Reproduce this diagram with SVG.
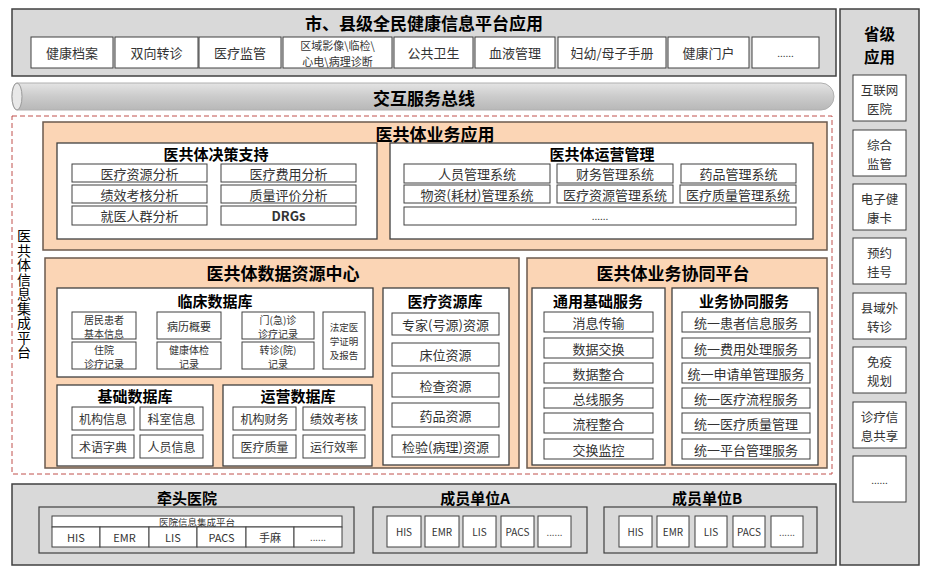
<svg xmlns="http://www.w3.org/2000/svg" width="933" height="573" viewBox="0 0 933 573">
<defs>
<linearGradient id="busg" x1="0" y1="0" x2="0" y2="1">
<stop offset="0" stop-color="#e4e4e4"/>
<stop offset="0.5" stop-color="#cbcbcb"/>
<stop offset="1" stop-color="#b8b8b8"/>
</linearGradient>
<style>
text{font-family:"Noto Sans CJK SC","Noto Sans",sans-serif;text-anchor:middle;dominant-baseline:central}
.panel{fill:#d9d9d9;stroke:#404040;stroke-width:1.5}
.peach{fill:#fbd5b5;stroke:#6b5a4e;stroke-width:1.5}
.wbox{fill:#fff;stroke:#404040;stroke-width:1.3}
.item{fill:#fff;stroke:#404040;stroke-width:1}
.dash{fill:none;stroke:#c0504d;stroke-width:1;stroke-dasharray:5,3}
.h1{font-size:17px;font-weight:bold;fill:#000}
.hp{font-size:15.5px;font-weight:bold;fill:#000}
.h2{font-size:15px;font-weight:bold;fill:#000}
.t13{font-size:13px;fill:#333}
.ts{font-size:12.5px;fill:#333}
.t12{font-size:12px;fill:#333}
.t11{font-size:11px;fill:#333}
.t10{font-size:10px;fill:#333}
.t9{font-size:9.5px;fill:#333}
.vert{font-size:14px;fill:#000;writing-mode:tb;text-anchor:start;letter-spacing:0.5px}
</style>
</defs>
<rect width="933" height="573" fill="#fff"/>

<g id="city-apps">
<rect class="panel" x="12" y="9" width="824" height="67"/>
<text class="h1" x="424" y="22">市、县级全民健康信息平台应用</text>
<rect class="item" x="31" y="37" width="82" height="31"/><text class="t13" x="72" y="52.5">健康档案</text>
<rect class="item" x="115" y="37" width="83" height="31"/><text class="t13" x="156.5" y="52.5">双向转诊</text>
<rect class="item" x="199" y="37" width="82" height="31"/><text class="t13" x="240" y="52.5">医疗监管</text>
<rect class="item" x="283" y="37" width="109" height="31"/><text class="t11"><tspan x="337.5" y="44.5">区域影像\临检\</tspan><tspan x="337.5" y="60.5">心电\病理诊断</tspan></text>
<rect class="item" x="394" y="37" width="79" height="31"/><text class="t13" x="433.5" y="52.5">公共卫生</text>
<rect class="item" x="475" y="37" width="80" height="31"/><text class="t13" x="515" y="52.5">血液管理</text>
<rect class="item" x="558" y="37" width="108" height="31"/><text class="t13" x="612" y="52.5">妇幼/母子手册</text>
<rect class="item" x="668" y="37" width="81" height="31"/><text class="t13" x="708.5" y="52.5">健康门户</text>
<rect class="item" x="752" y="37" width="67" height="31"/><text class="t10" x="785.5" y="52.5">......</text>
</g>

<g id="service-bus">
<path d="M17,83 H821 A13,13.5 0 0 1 821,110 H17 A5,13.5 0 0 1 17,83 Z" fill="url(#busg)" stroke="#b0b0b0" stroke-width="1"/>
<ellipse cx="17" cy="96.5" rx="5" ry="13.5" fill="#e8e8e8" stroke="#9a9a9a" stroke-width="1"/>
<text class="h1" x="424" y="97">交互服务总线</text>
</g>

<g id="province-apps">
<rect class="panel" x="840" y="9" width="79" height="556"/>
<text class="hp"><tspan x="879.5" y="33">省级</tspan><tspan x="879.5" y="56">应用</tspan></text>
<rect class="item" x="853" y="75" width="53" height="46"/><text class="ts"><tspan x="879.5" y="89">互联网</tspan><tspan x="879.5" y="107.5">医院</tspan></text>
<rect class="item" x="853" y="130" width="53" height="46"/><text class="ts"><tspan x="879.5" y="144">综合</tspan><tspan x="879.5" y="162.5">监管</tspan></text>
<rect class="item" x="853" y="184" width="53" height="46"/><text class="ts"><tspan x="879.5" y="198">电子健</tspan><tspan x="879.5" y="216.5">康卡</tspan></text>
<rect class="item" x="853" y="238" width="53" height="46"/><text class="ts"><tspan x="879.5" y="252">预约</tspan><tspan x="879.5" y="270.5">挂号</tspan></text>
<rect class="item" x="853" y="293" width="53" height="46"/><text class="ts"><tspan x="879.5" y="307">县域外</tspan><tspan x="879.5" y="325.5">转诊</tspan></text>
<rect class="item" x="853" y="347" width="53" height="46"/><text class="ts"><tspan x="879.5" y="361">免疫</tspan><tspan x="879.5" y="379.5">规划</tspan></text>
<rect class="item" x="853" y="402" width="53" height="46"/><text class="ts"><tspan x="879.5" y="416">诊疗信</tspan><tspan x="879.5" y="434.5">息共享</tspan></text>
<rect class="item" x="853" y="456" width="53" height="46"/><text class="t10" x="879.5" y="479">......</text>
</g>

<g id="integration-platform">
<rect class="dash" x="12" y="116" width="820" height="358"/>
<text class="vert" x="24" y="229">医共体信息集成平台</text>
</g>

<g id="business-apps">
<rect class="peach" x="43" y="122" width="784" height="128"/>
<text class="h1" x="435" y="133">医共体业务应用</text>
</g>

<g id="decision-support">
<rect class="wbox" x="57" y="143" width="320" height="96"/>
<text class="h2" x="216" y="153">医共体决策支持</text>
<rect class="item" x="72" y="164" width="135" height="18"/><text class="t13" x="139.5" y="173">医疗资源分析</text>
<rect class="item" x="221" y="164" width="135" height="18"/><text class="t13" x="288.5" y="173">医疗费用分析</text>
<rect class="item" x="72" y="185" width="135" height="18"/><text class="t13" x="139.5" y="194">绩效考核分析</text>
<rect class="item" x="221" y="185" width="135" height="18"/><text class="t13" x="288.5" y="194">质量评价分析</text>
<rect class="item" x="72" y="206" width="135" height="19"/><text class="t13" x="139.5" y="215.5">就医人群分析</text>
<rect class="item" x="221" y="206" width="135" height="19"/><text class="t13" x="288.5" y="215.5" style="font-weight:bold">DRGs</text>
</g>

<g id="operation-mgmt">
<rect class="wbox" x="390" y="143" width="423" height="96"/>
<text class="h2" x="602" y="153">医共体运营管理</text>
<rect class="item" x="404" y="164" width="146" height="19"/><text class="t13" x="477" y="173.5">人员管理系统</text>
<rect class="item" x="557" y="164" width="116" height="19"/><text class="t13" x="615" y="173.5">财务管理系统</text>
<rect class="item" x="681" y="164" width="115" height="19"/><text class="t13" x="738.5" y="173.5">药品管理系统</text>
<rect class="item" x="404" y="185" width="146" height="18"/><text class="t13" x="477" y="194">物资(耗材)管理系统</text>
<rect class="item" x="557" y="185" width="116" height="18"/><text class="t13" x="615" y="194">医疗资源管理系统</text>
<rect class="item" x="680" y="185" width="116" height="18"/><text class="t13" x="738" y="194">医疗质量管理系统</text>
<rect class="item" x="404" y="207" width="392" height="18"/><text class="t10" x="600" y="215">......</text>
</g>

<g id="data-center">
<rect class="peach" x="45" y="258" width="474" height="210"/>
<text class="h1" x="283" y="272">医共体数据资源中心</text>
</g>

<g id="clinical-db">
<rect class="wbox" x="57" y="288" width="316" height="89"/>
<text class="h2" x="215" y="300">临床数据库</text>
<rect class="item" x="72" y="312" width="64" height="27"/><text class="t10"><tspan x="104" y="318.5">居民患者</tspan><tspan x="104" y="333">基本信息</tspan></text>
<rect class="item" x="157" y="312" width="64" height="27"/><text class="t11" x="189" y="325.5">病历概要</text>
<rect class="item" x="242" y="312" width="72" height="27"/><text class="t10"><tspan x="278" y="318.5">门(急)诊</tspan><tspan x="278" y="333">诊疗记录</tspan></text>
<rect class="item" x="72" y="342" width="64" height="27"/><text class="t10"><tspan x="104" y="348.5">住院</tspan><tspan x="104" y="363">诊疗记录</tspan></text>
<rect class="item" x="157" y="342" width="64" height="27"/><text class="t10"><tspan x="189" y="348.5">健康体检</tspan><tspan x="189" y="363">记录</tspan></text>
<rect class="item" x="242" y="342" width="72" height="27"/><text class="t10"><tspan x="278" y="348.5">转诊(院)</tspan><tspan x="278" y="363">记录</tspan></text>
<rect class="item" x="323" y="312" width="42" height="57"/><text class="t9"><tspan x="344" y="326.5">法定医</tspan><tspan x="344" y="340.5">学证明</tspan><tspan x="344" y="354.5">及报告</tspan></text>
</g>

<g id="base-db">
<rect class="wbox" x="57" y="385" width="156" height="81"/>
<text class="h2" x="135" y="395">基础数据库</text>
<rect class="item" x="72" y="407" width="62" height="23"/><text class="t12" x="103" y="418.5">机构信息</text>
<rect class="item" x="140" y="407" width="63" height="23"/><text class="t12" x="171.5" y="418.5">科室信息</text>
<rect class="item" x="72" y="435" width="62" height="23"/><text class="t12" x="103" y="446.5">术语字典</text>
<rect class="item" x="140" y="435" width="63" height="23"/><text class="t12" x="171.5" y="446.5">人员信息</text>
</g>

<g id="ops-db">
<rect class="wbox" x="223" y="385" width="149" height="81"/>
<text class="h2" x="298" y="395">运营数据库</text>
<rect class="item" x="233" y="407" width="63" height="23"/><text class="t12" x="264.5" y="418.5">机构财务</text>
<rect class="item" x="303" y="407" width="62" height="23"/><text class="t12" x="334" y="418.5">绩效考核</text>
<rect class="item" x="233" y="435" width="63" height="23"/><text class="t12" x="264.5" y="446.5">医疗质量</text>
<rect class="item" x="303" y="435" width="62" height="23"/><text class="t12" x="334" y="446.5">运行效率</text>
</g>

<g id="resource-db">
<rect class="wbox" x="383" y="288" width="126" height="177"/>
<text class="h2" x="445" y="300">医疗资源库</text>
<rect class="item" x="392" y="313" width="107" height="22"/><text class="t13" x="445.5" y="324">专家(号源)资源</text>
<rect class="item" x="392" y="343" width="107" height="23"/><text class="t13" x="445.5" y="354.5">床位资源</text>
<rect class="item" x="392" y="373" width="107" height="24"/><text class="t13" x="445.5" y="385">检查资源</text>
<rect class="item" x="392" y="403" width="107" height="24"/><text class="t13" x="445.5" y="415">药品资源</text>
<rect class="item" x="392" y="435" width="107" height="22"/><text class="t13" x="445.5" y="446">检验(病理)资源</text>
</g>

<g id="collab-platform">
<rect class="peach" x="527" y="258" width="300" height="210"/>
<text class="h1" x="673" y="272">医共体业务协同平台</text>
</g>

<g id="common-services">
<rect class="wbox" x="532" y="288" width="133" height="177"/>
<text class="h2" x="598" y="300">通用基础服务</text>
<rect class="item" x="544" y="312" width="109" height="20"/><text class="t13" x="598.5" y="322">消息传输</text>
<rect class="item" x="544" y="338" width="109" height="20"/><text class="t13" x="598.5" y="348">数据交换</text>
<rect class="item" x="544" y="363" width="109" height="20"/><text class="t13" x="598.5" y="373">数据整合</text>
<rect class="item" x="544" y="388" width="109" height="20"/><text class="t13" x="598.5" y="398">总线服务</text>
<rect class="item" x="544" y="413" width="109" height="20"/><text class="t13" x="598.5" y="423">流程整合</text>
<rect class="item" x="544" y="439" width="109" height="20"/><text class="t13" x="598.5" y="449">交换监控</text>
</g>

<g id="collab-services">
<rect class="wbox" x="672" y="288" width="146" height="177"/>
<text class="h2" x="744" y="300">业务协同服务</text>
<rect class="item" x="682" y="312" width="128" height="20"/><text class="t13" x="746" y="322">统一患者信息服务</text>
<rect class="item" x="682" y="338" width="128" height="20"/><text class="t13" x="746" y="348">统一费用处理服务</text>
<rect class="item" x="682" y="363" width="128" height="20"/><text class="t13" x="746" y="373">统一申请单管理服务</text>
<rect class="item" x="682" y="388" width="128" height="20"/><text class="t13" x="746" y="398">统一医疗流程服务</text>
<rect class="item" x="682" y="413" width="128" height="20"/><text class="t13" x="746" y="423">统一医疗质量管理</text>
<rect class="item" x="682" y="439" width="128" height="20"/><text class="t13" x="746" y="449">统一平台管理服务</text>
</g>

<g id="members">
<rect class="panel" x="12" y="484" width="824" height="81"/>
</g>

<g id="lead-hospital">
<text class="h2" x="187" y="497">牵头医院</text>
<rect class="panel" x="39" y="507" width="315" height="46" style="stroke-width:1.2"/>
<rect class="item" x="52" y="516" width="290" height="11"/><text class="t9" x="197" y="521.5">医院信息集成平台</text>
<rect class="item" x="52" y="527" width="48" height="20"/><text class="t11" x="76" y="537">HIS</text>
<rect class="item" x="100" y="527" width="49" height="20"/><text class="t11" x="124.5" y="537">EMR</text>
<rect class="item" x="149" y="527" width="48" height="20"/><text class="t11" x="173" y="537">LIS</text>
<rect class="item" x="197" y="527" width="49" height="20"/><text class="t11" x="221.5" y="537">PACS</text>
<rect class="item" x="246" y="527" width="48" height="20"/><text class="t11" x="270" y="537">手麻</text>
<rect class="item" x="294" y="527" width="48" height="20"/><text class="t9" x="318" y="537">......</text>
</g>

<g id="member-a">
<text class="h2" x="475" y="497">成员单位A</text>
<rect class="panel" x="373" y="507" width="214" height="46" style="stroke-width:1.2"/>
<rect class="item" x="387" y="516" width="34" height="31"/><text class="t10" x="404" y="531.5">HIS</text>
<rect class="item" x="425" y="516" width="34" height="31"/><text class="t10" x="442" y="531.5">EMR</text>
<rect class="item" x="463" y="516" width="33" height="31"/><text class="t10" x="479.5" y="531.5">LIS</text>
<rect class="item" x="501" y="516" width="33" height="31"/><text class="t10" x="517.5" y="531.5">PACS</text>
<rect class="item" x="538" y="516" width="33" height="31"/><text class="t9" x="554.5" y="531.5">......</text>
</g>

<g id="member-b">
<text class="h2" x="707" y="497">成员单位B</text>
<rect class="panel" x="604" y="507" width="213" height="46" style="stroke-width:1.2"/>
<rect class="item" x="619" y="516" width="33" height="31"/><text class="t10" x="635.5" y="531.5">HIS</text>
<rect class="item" x="657" y="516" width="32" height="31"/><text class="t10" x="673" y="531.5">EMR</text>
<rect class="item" x="695" y="516" width="32" height="31"/><text class="t10" x="711" y="531.5">LIS</text>
<rect class="item" x="733" y="516" width="32" height="31"/><text class="t10" x="749" y="531.5">PACS</text>
<rect class="item" x="771" y="516" width="32" height="31"/><text class="t9" x="787" y="531.5">......</text>
</g>

<g id="connectors"></g>
</svg>
